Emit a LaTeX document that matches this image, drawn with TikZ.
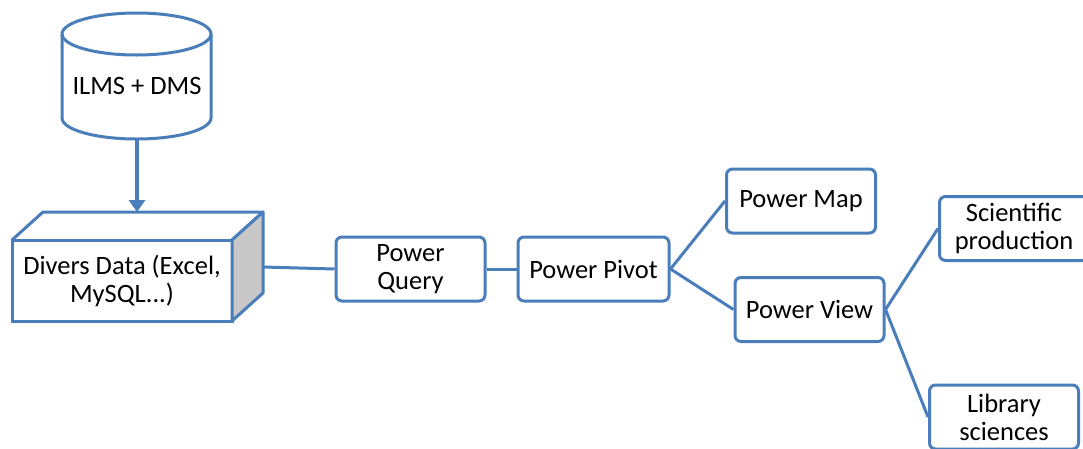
\documentclass[tikz,border=0pt]{standalone}
\usepackage{fontspec}
\setmainfont{Carlito}
\usetikzlibrary{arrows.meta}
\definecolor{officeblue}{RGB}{74,126,187}
\definecolor{sidegray}{RGB}{200,200,200}

\begin{document}
\begin{tikzpicture}[x=1pt,y=-1pt,
	lbl/.style={align=center, font=\fontsize{26.5}{28}\selectfont},
	box/.style={lbl, draw=officeblue, line width=3pt, rounded corners=6pt, fill=white, minimum width=149pt, minimum height=64pt, inner sep=2pt},
	link/.style={draw=officeblue, line width=3pt}]

	\useasboundingbox (0,0) rectangle (1083,448);
	\clip (0,0) rectangle (1083,448);

	% database
	\draw[officeblue, line width=3pt, fill=white] (62,34) -- (62,118) arc[start angle=180, end angle=0, x radius=74.5, y radius=21] -- (211,34) arc[start angle=0, end angle=-180, x radius=74.5, y radius=21] -- cycle;
	\draw[officeblue, line width=3pt] (62,34) arc[start angle=180, end angle=0, x radius=74.5, y radius=21];
	\node[lbl] (db) at (137,86) {ILMS + DMS};
	\coordinate (dbbot) at (137,139);

	% data box
	\node[lbl, draw=officeblue, line width=3pt, outer sep=0pt, minimum width=220pt, minimum height=81pt] (data) at (122,280.5) {Divers Data (Excel,\\MySQL...)};
	\draw[officeblue, line width=3pt, line join=round] (data.north west) -- ++(31,-28) -- ++(220,0) -- (data.north east);
	\draw[officeblue, line width=3pt, line join=round, fill=sidegray] (data.north east) -- ++(31,-28) -- ++(0,81) -- (data.south east) -- cycle;
	\coordinate (datatop) at (137,212);
	\coordinate (dataside) at (263,267);

	% arrow
	\draw[officeblue, line width=4pt, -{Triangle[length=12pt,width=16pt]}] (dbbot) -- (datatop);

	% power tools
	\node[box] (query) at (410.5,269) {Power\\Query};
	\node[box, minimum width=151pt] (pivot) at (593.5,269) {Power Pivot};
	\node[box] (map) at (801,201) {Power Map};
	\node[box] (view) at (809.5,309.5) {Power View};
	\node[box] (sci) at (1014,228.5) {Scientific\\production};
	\node[box] (lib) at (1004,417) {Library\\sciences};

	% links
	\draw[link] (dataside) -- (query.west);
	\draw[link] (query.east) -- (pivot.west);
	\draw[link] (pivot.east) -- (map.west);
	\draw[link] (pivot.east) -- (view.west);
	\draw[link] (view.east) -- (sci.west);
	\draw[link] (view.east) -- (lib.west);

\end{tikzpicture}
\end{document}
